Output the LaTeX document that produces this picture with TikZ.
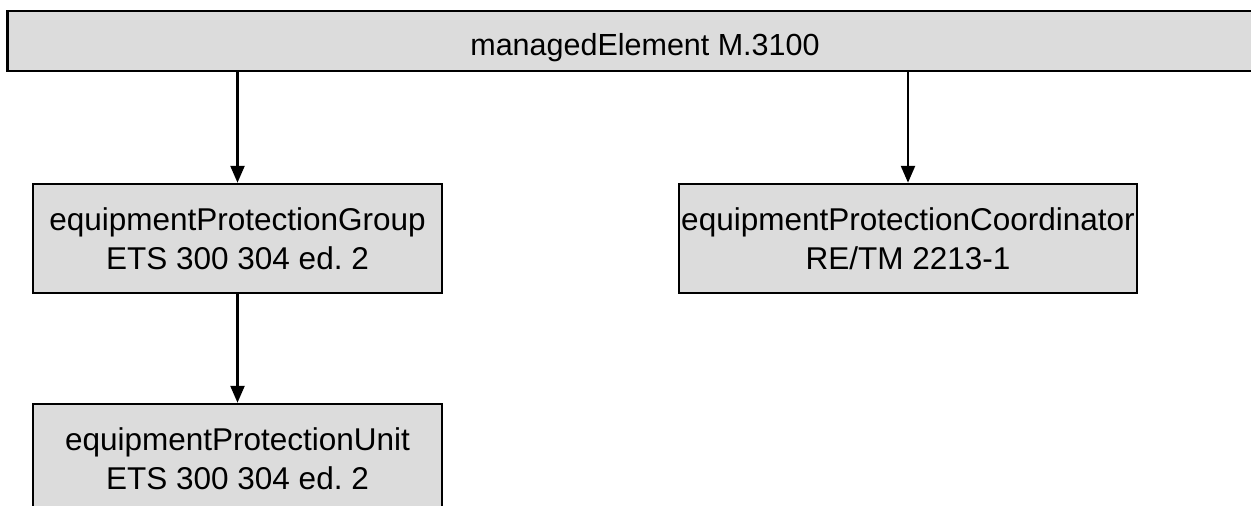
\documentclass[tikz,border=0pt]{standalone}
\usepackage{fontspec}
\setmainfont{Liberation Sans}
\usetikzlibrary{arrows.meta}
\definecolor{boxgray}{RGB}{220,220,220}
\frenchspacing
\tikzset{
  box/.style={draw=black, line width=2.5pt, fill=boxgray, align=center, inner sep=0pt,
    font=\fontsize{31.5}{39}\selectfont},
  arr/.style={line width=2.5pt, -{Triangle[length=17pt,width=14pt]}}
}
\begin{document}
\begin{tikzpicture}[x=1pt,y=-1pt]
\useasboundingbox (0,0) rectangle (1251,506);
\clip (0,0) rectangle (1251,506);
\node[box, minimum width=1275pt, minimum height=60pt, text height=30pt, text depth=2pt,
  font=\fontsize{30.5}{37}\selectfont] (me) at (645,41) {managedElement M.3100};
\node[box, minimum width=409pt, minimum height=109pt] (epg) at (237.5,238.5)
  {equipmentProtectionGroup\\ETS 300 304 ed. 2};
\node[box, minimum width=458pt, minimum height=109pt] (epc) at (908,238.5)
  {equipmentProtectionCoordinator\\RE/TM 2213-1};
\node[box, minimum width=409pt, minimum height=109pt] (epu) at (237.5,458.5)
  {equipmentProtectionUnit\\ETS 300 304 ed. 2};
\draw[arr] (me.south -| epg.north) -- (epg.north);
\draw[arr] (me.south -| epc.north) -- (epc.north);
\draw[arr] (epg.south) -- (epu.north);
\end{tikzpicture}
\end{document}
